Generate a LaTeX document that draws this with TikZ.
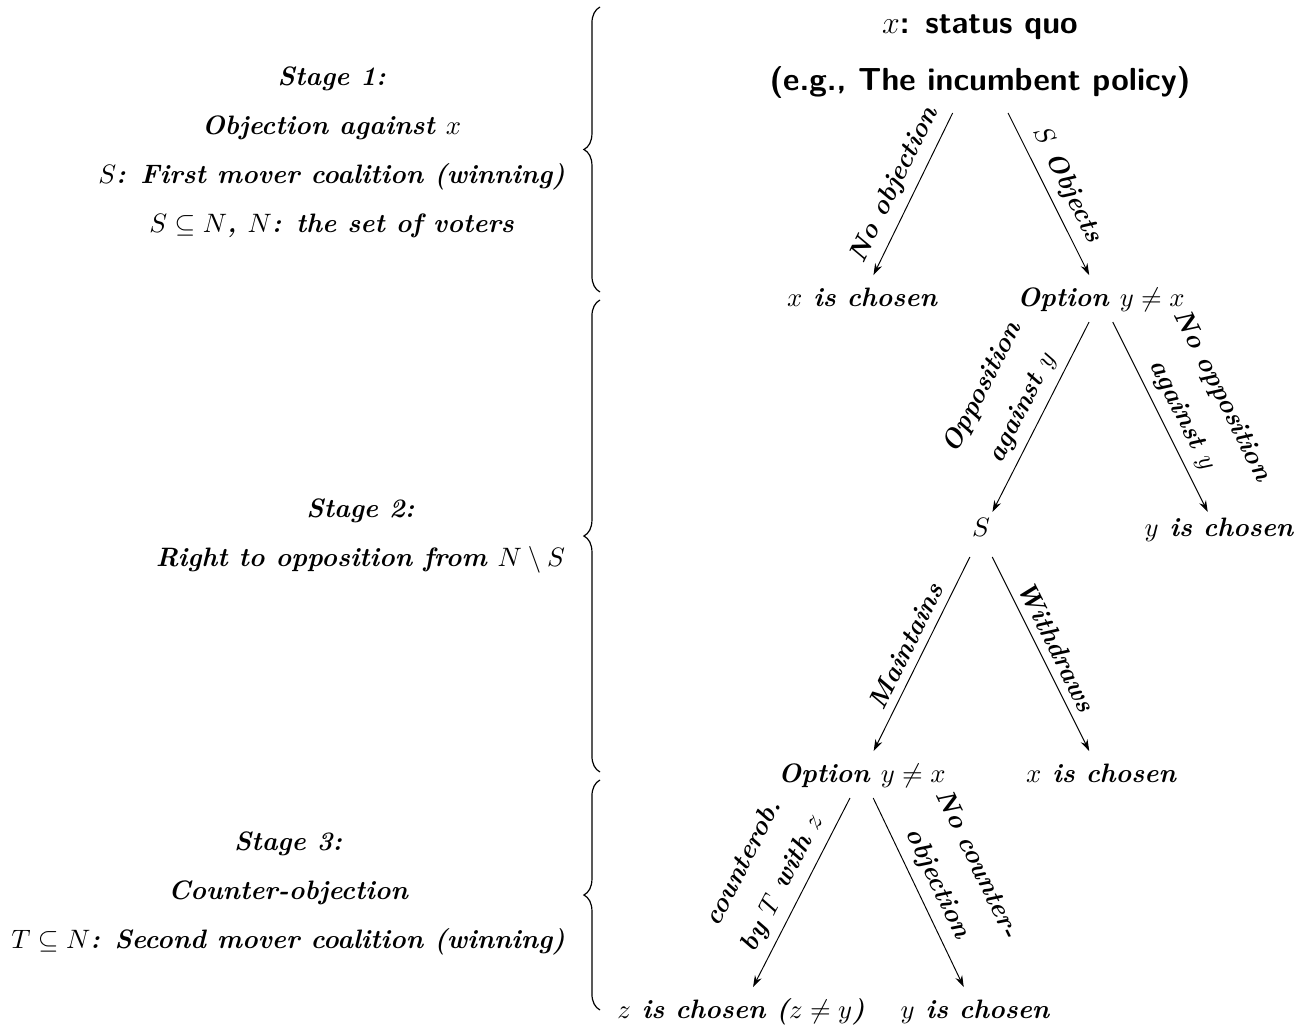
\RequirePackage{fix-cm}
\documentclass[tikz,border=0pt]{standalone}
\usepackage{amssymb}
\usetikzlibrary{arrows.meta,decorations.pathreplacing}
\newcommand{\bifont}{\fontsize{11.1}{13.4}\selectfont\bfseries\itshape}
\newcommand{\rootfont}{\fontsize{13.3}{16}\selectfont\sffamily\bfseries}
\begin{document}
\begin{tikzpicture}[x=0.4167pt,y=-0.4167pt,
  every node/.style={inner sep=0pt, outer sep=0pt},
  rowA/.style={font=\bifont, anchor=base, inner xsep=2pt, text height=12.9pt, text depth=6.7pt},
  rowB/.style={font=\bifont, anchor=base, inner xsep=2pt, text height=10pt, text depth=8.75pt},
  stagetext/.style={font=\bifont, anchor=east, align=center},
  lab/.style={font=\bifont, sloped, above, align=center, inner sep=3.5pt},
  arr/.style={-{Stealth[length=4.8pt,width=3.1pt]}, line width=0.4pt},
  stagebrace/.style={decorate, decoration={brace, amplitude=6.7pt}, line width=0.5pt}]
\useasboundingbox (0,0) rectangle (1311,1030);

% tree nodes
\node[anchor=center, align=center, minimum height=112*0.4167pt, font=\rootfont]
  (root) at (980,57) {$x$: status quo\\[7.75pt](e.g., The incumbent policy)};
\node[rowA] (xa) at (862,306) {$x$ is chosen};
\node[rowA] (oa) at (1101,306) {Option $y\neq x$};
\node[rowB] (s)  at (981,536) {$S$};
\node[rowB] (yb) at (1219,536) {$y$ is chosen};
\node[rowA] (ob) at (862,782) {Option $y\neq x$};
\node[rowA] (xb) at (1101,782) {$x$ is chosen};
\node[rowA] (zc) at (741,1018) {$z$ is chosen ($z\neq y$)};
\node[rowA] (yc) at (975,1018) {$y$ is chosen};

% edges
\draw[arr] (root) -- node[lab] {No objection} (xa);
\draw[arr] (root) -- node[lab] {$S$ Objects} (oa);
\draw[arr] (oa) -- node[lab] {Opposition\\[5pt]against $y$} (s);
\draw[arr] (oa) -- node[lab, pos=0.54] {No opposition\\[5pt]against $y$} (yb);
\draw[arr] (s) -- node[lab] {Maintains} (ob);
\draw[arr] (s) -- node[lab] {Withdraws} (xb);
\draw[arr] (ob) -- node[lab] {counterob.\\[5pt]by $T$ with $z$} (zc);
\draw[arr] (ob) -- node[lab, pos=0.5] {No counter-\\[5pt]objection} (yc);

% stage descriptions
\node[stagetext] (st1) at (565,152) {Stage 1:\\[7pt]Objection against $x$\\[7pt]$S$: First mover coalition (winning)\\[7pt]$S\subseteq N$, $N$: the set of voters};
\node[stagetext] (st2) at (565,536) {Stage 2:\\[7pt]Right to opposition from $N\setminus S$};
\node[stagetext] (st3) at (565,893) {Stage 3:\\[7pt]Counter-objection\\[7pt]$T\subseteq N$: Second mover coalition (winning)};

% braces
\coordinate (b1t) at (600,7);
\coordinate (b1b) at (600,292);
\coordinate (b2t) at (600,300);
\coordinate (b2b) at (600,772);
\coordinate (b3t) at (600,780);
\coordinate (b3b) at (600,1010);
\draw[stagebrace] (b1b) -- (b1t);
\draw[stagebrace] (b2b) -- (b2t);
\draw[stagebrace] (b3b) -- (b3t);
\end{tikzpicture}
\end{document}
